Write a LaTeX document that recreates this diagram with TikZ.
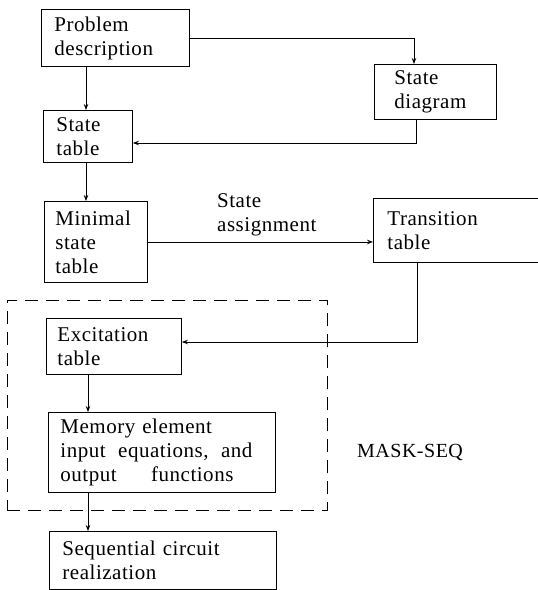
\documentclass[tikz,border=0pt]{standalone}
\usepackage{fontspec}
\setmainfont{Liberation Serif}[LetterSpace=2.5]
\usetikzlibrary{arrows.meta,calc}
\begin{document}
\begin{tikzpicture}[x=1pt,y=-1pt,
  box/.style={draw, line width=0.9pt, rectangle, anchor=north west, inner xsep=13pt, inner ysep=0pt, align=left, font=\fontsize{21}{24}\selectfont},
  arr/.style={line width=0.9pt, -{Stealth[length=6pt,width=4.5pt]}},
  ln/.style={line width=0.9pt}]
\clip (0,0) rectangle (538,590);
\useasboundingbox (0,0) rectangle (538,590);
\node[box, minimum width=148pt, minimum height=57pt, text width=122pt] (pd) at (41,9) {Problem\\description};
\node[box, minimum width=122pt, minimum height=55pt, inner xsep=20pt, text width=82pt] (sd) at (374,64) {State\\diagram};
\node[box, minimum width=89pt, minimum height=52pt, text width=63pt] (st) at (43,110) {State\\table};
\node[box, minimum width=103pt, minimum height=81pt, inner xsep=11pt, text width=81pt] (ms) at (44,201) {Minimal\\state\\table};
\node[box, minimum width=200pt, minimum height=64pt, inner xsep=14pt, text width=172pt] (tt) at (373,198) {Transition\\table};
\node[box, minimum width=135pt, minimum height=56pt, inner xsep=11pt, text width=113pt] (et) at (46,318) {Excitation\\table};
\node[box, minimum width=227pt, minimum height=80pt, inner xsep=12pt, text width=203pt] (me) at (48,412) {Memory element\\\makebox[192pt][l]{input\hfill equations,\hfill and}\\\makebox[173pt][l]{output\hfill functions}};
\node[box, minimum width=227pt, minimum height=58pt, text width=201pt] (sc) at (49,531) {Sequential circuit\\realization};
\node[draw, line width=0.9pt, dash pattern=on 13pt off 8pt, rectangle, anchor=north west, minimum width=320pt, minimum height=210pt, inner sep=0pt] (mask) at (7,300) {};
\node[anchor=north west, inner sep=0pt, align=left, font=\fontsize{21}{24}\selectfont] (sa) at (217,193) {State\\assignment};
\node[anchor=west, inner sep=0pt, font=\fontsize{20}{24}\selectfont] (ml) at (357,452) {MASK-SEQ};
\coordinate (xa) at (86,0);
\coordinate (xb) at (88,0);
\coordinate (xc) at (414,0);
\coordinate (xd) at (416,0);
\coordinate (xe) at (417,0);
\coordinate (ya) at (0,143);
\coordinate (yb) at (0,342);
\draw[arr] (pd.south -| xa) -- (st.north -| xa);
\draw[arr] (pd.east) -- (pd.east -| xc) -- (sd.north -| xc);
\draw[arr] (sd.south -| xd) -- (xd |- ya) -- (st.east |- ya);
\draw[arr] (st.south -| xa) -- (ms.north -| xa);
\draw[arr] (ms.east) -- (ms.east -| tt.west);
\draw[arr] (tt.south -| xe) -- (xe |- yb) -- (et.east |- yb);
\draw[arr] (et.south -| xb) -- (me.north -| xb);
\draw[arr] (me.south -| xb) -- (sc.north -| xb);
\end{tikzpicture}
\end{document}
